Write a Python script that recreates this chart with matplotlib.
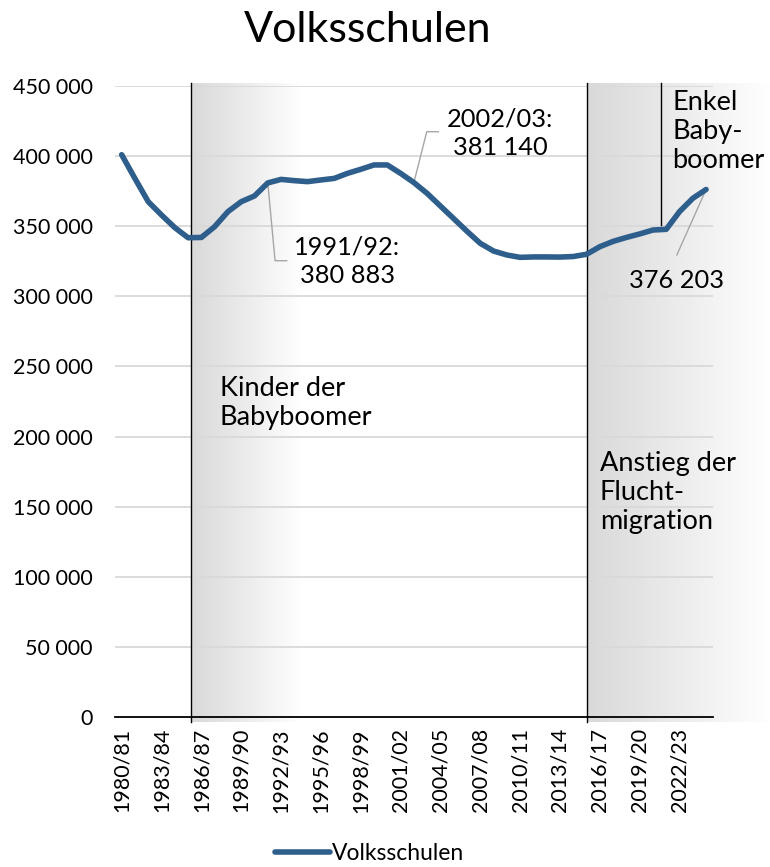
import numpy as np
import matplotlib.pyplot as plt
from matplotlib.ticker import FuncFormatter

plt.rcParams['font.family'] = ['Lato', 'DejaVu Sans']

# School years 1980/81 .. 2024/25
years = [f"{y}/{(y + 1) % 100:02d}" for y in range(1980, 2025)]

# Pupils in Volksschulen
pupils = [401000, 384000, 367500, 358000, 349000, 341800, 342000, 349700,
          360400, 367500, 371600, 380883, 383400, 382500, 381800, 383000,
          384100, 387700, 390600, 393700, 393700, 387700, 381140, 373400,
          364400, 355400, 346400, 337800, 332300, 329500, 327800, 328100,
          328100, 328000, 328400, 330000, 335400, 339200, 342000, 344500,
          347300, 347800, 360400, 369900, 376203]

x = np.arange(len(years))
line_col = '#2E5E8C'

fig = plt.figure(figsize=(7.7, 8.67), dpi=100)
ax = fig.add_axes([0.1494, 0.1730, 0.7762, 0.7278])
ax.set_facecolor('none')

# shaded periods (grey fading to white)
def band(x0, x1, y0, y1):
    ramp = np.linspace(0, 1, 256)
    grey = 0.85
    rgb = grey + (1 - grey) * ramp
    img = np.ones((2, 256, 3)) * rgb[None, :, None]
    im = ax.imshow(img, extent=[x0, x1, y0, y1], aspect='auto',
                   interpolation='bilinear', zorder=0)
    im.set_clip_on(False)

band(5.2, 13.5, -3500, 452000)
band(35.0, 48.9, -3500, 452000)

# vertical markers
ax.plot([5.2, 5.2], [-3500, 452000], color='black', lw=1, zorder=2, clip_on=False)
ax.plot([35.0, 35.0], [-3500, 452000], color='black', lw=1, zorder=2, clip_on=False)
ax.plot([40.6, 40.6], [351000, 452000], color='black', lw=1, zorder=2, clip_on=False)

ax.plot(x, pupils, color=line_col, lw=4, solid_capstyle='round',
        solid_joinstyle='round', zorder=4, label='Volksschulen')

ax.set_xlim(-0.5, len(years) - 0.5)
ax.set_ylim(0, 450000)
ax.set_yticks(np.arange(0, 450001, 50000))
ax.yaxis.set_major_formatter(FuncFormatter(lambda v, p: f"{int(v):,}".replace(',', ' ')))
ax.set_xticks(x[::3])
ax.set_xticklabels(years[::3], rotation=90)
ax.tick_params(axis='y', length=0, pad=16, labelsize=15.5)
ax.tick_params(axis='x', length=0, pad=8, labelsize=15.5)

ax.grid(axis='y', color='#d9d9d9', lw=1.3)
ax.set_axisbelow(True)
for s in ['left', 'right', 'top']:
    ax.spines[s].set_visible(False)
ax.spines['bottom'].set_color('black')
ax.spines['bottom'].set_linewidth(1.3)
ax.spines['bottom'].set_zorder(3)

# annotations
lead = '#a6a6a6'
ax.plot([11, 11.55, 12.42], [pupils[11], 325400, 325400], color=lead, lw=1, zorder=3)
ax.text(17.0, 324800, "1991/92:\n380 883", ha='center', va='center',
        fontsize=18.3, linespacing=1.3)
ax.plot([22, 22.97, 23.84], [pupils[22], 417400, 417400], color=lead, lw=1, zorder=3)
ax.text(28.5, 416100, "2002/03:\n381 140", ha='center', va='center',
        fontsize=18.3, linespacing=1.3)
ax.plot([44, 41.8], [pupils[44], 329500], color=lead, lw=1, zorder=3)
ax.text(41.74, 311650, "376 203", ha='center', va='center', fontsize=18.3)

ax.text(41.45, 417550, "Enkel\nBaby-\nboomer", ha='left', va='center',
        fontsize=19.5, linespacing=1.22, clip_on=False)
ax.text(7.4, 223900, "Kinder der\nBabyboomer", ha='left', va='center',
        fontsize=19.5, linespacing=1.2)
ax.text(36.0, 160460, "Anstieg der\nFlucht-\nmigration", ha='left', va='center',
        fontsize=19.5, linespacing=1.2)

fig.text(0.478, 0.965, "Volksschulen", ha='center', va='center', fontsize=31)

fig.legend(loc='center', bbox_to_anchor=(0.48, 0.016), frameon=False,
           fontsize=16.5, handlelength=2.4, handletextpad=0.1)

fig.savefig('out.png', dpi=100)
